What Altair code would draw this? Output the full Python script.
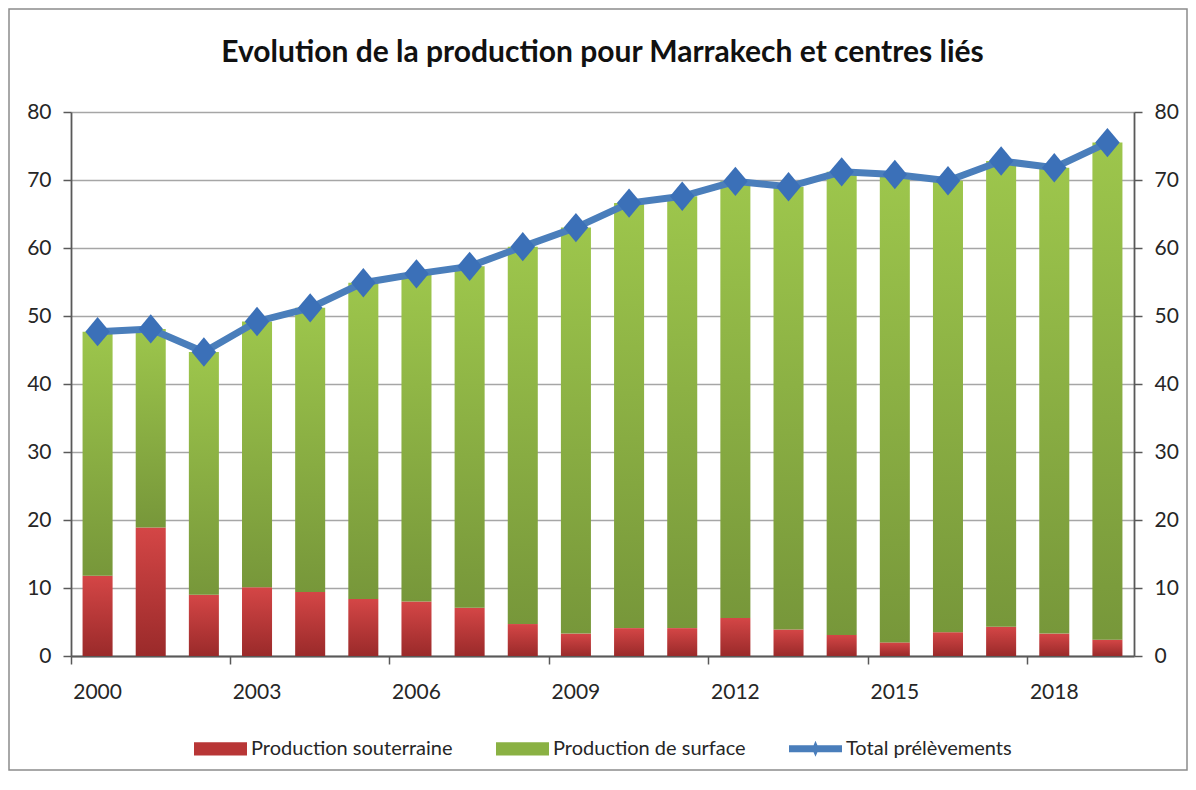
import altair as alt
import pandas as pd

# ---------------- data ----------------
years = list(range(2000, 2020))
souterraine = [11.8, 18.9, 9.0, 10.1, 9.4, 8.4, 8.0, 7.1, 4.7, 3.3,
               4.1, 4.1, 5.6, 3.9, 3.1, 2.0, 3.5, 4.3, 3.3, 2.4]
surface = [35.9, 29.2, 35.7, 39.1, 41.8, 46.5, 48.2, 50.2, 55.5, 59.7,
           62.5, 63.5, 64.2, 65.1, 68.1, 68.8, 66.4, 68.5, 68.5, 73.1]
total = [47.7, 48.1, 44.7, 49.2, 51.2, 54.9, 56.2, 57.3, 60.2, 63.0,
         66.6, 67.6, 69.8, 69.0, 71.2, 70.8, 69.9, 72.8, 71.8, 75.5]
series_names = ["Production souterraine", "Production de surface", "Total prélèvements"]
x_label_years = [2000, 2003, 2006, 2009, 2012, 2015, 2018]
y_ticks = [0, 10, 20, 30, 40, 50, 60, 70, 80]
title_text = "Evolution de la production pour Marrakech et centres liés"

df = pd.DataFrame({"year": years, "sout": souterraine, "surf": surface, "total": total})
legend_df = pd.DataFrame({"serie": series_names})

# ---------------- styling ----------------
W, H = 1063, 544
FONT = "Lato"
TXT = "#262626"
AXC = "#595959"

grad_red = {"gradient": "linear", "x1": 0, "x2": 0, "y1": 0, "y2": 1,
            "stops": [{"offset": 0, "color": "#d44646"}, {"offset": 1, "color": "#9a2a2a"}]}
grad_green = {"gradient": "linear", "x1": 0, "x2": 0, "y1": 0, "y2": 1,
              "stops": [{"offset": 0, "color": "#9dc64c"}, {"offset": 1, "color": "#77973a"}]}

diamond_path = "M0,-1.2L1,0L0,1.2L-1,0Z"
rect_path = "M-1,-0.25H1V0.25H-1Z"
line_sym_path = "M-1,-0.13H1V0.13H-1Z M0,-0.3L0.13,0L0,0.3L-0.13,0Z"

x_axis = alt.Axis(values=x_label_years, bandPosition=0, title=None, labelAngle=0,
                  labelFont=FONT, labelFontSize=21, labelColor=TXT, labelPadding=17,
                  tickSize=8, tickColor=AXC, tickWidth=1.5, domainColor=AXC, domainWidth=1.8,
                  grid=False)
x_enc = alt.X("year:O", scale=alt.Scale(paddingInner=0, paddingOuter=0), axis=x_axis)

y_scale = alt.Scale(domain=[0, 80], nice=False, zero=True)
left_axis = alt.Axis(values=y_ticks, title=None, grid=True, gridColor="#a6a6a6", gridWidth=1.5,
                     labelFont=FONT, labelFontSize=21, labelColor=TXT, labelPadding=12,
                     tickSize=8, tickColor=AXC, tickWidth=1.5, domainColor=AXC, domainWidth=1.8)
right_axis = alt.Axis(values=y_ticks, title=None, grid=False, orient="right",
                      labelFont=FONT, labelFontSize=21, labelColor=TXT, labelPadding=12,
                      tickSize=8, tickColor=AXC, tickWidth=1.5, domainColor=AXC, domainWidth=1.8)

bar_w = alt.RelativeBandSize(0.565)

frame = alt.Chart(pd.DataFrame({"a": [0]})).mark_rect(
    fillOpacity=0, stroke="#8c8c8c", strokeWidth=1.5
).encode(x=alt.value(-62), x2=alt.value(1116), y=alt.value(-103), y2=alt.value(658))

red = alt.Chart(df).mark_bar(color=grad_red, width=bar_w).encode(
    x=x_enc, y=alt.Y("sout:Q", scale=y_scale, axis=left_axis))

green = alt.Chart(df).transform_calculate(top="datum.sout + datum.surf").mark_bar(
    color=grad_green, width=bar_w
).encode(x=x_enc, y=alt.Y("sout:Q", scale=y_scale, axis=None), y2="top:Q")

line = alt.Chart(df).mark_line(color="#4a7ebb", strokeWidth=7).encode(
    x=x_enc, y=alt.Y("total:Q", scale=y_scale, axis=None))

pts = alt.Chart(df).mark_point(filled=True, shape=diamond_path, size=600,
                               color="#3b70b8", opacity=1).encode(
    x=x_enc, y=alt.Y("total:Q", scale=y_scale, axis=right_axis))

leg = alt.Legend(title=None, orient="none", legendX=123, legendY=610, direction="horizontal",
                 symbolSize=2809, symbolOpacity=1, symbolStrokeWidth=0,
                 labelFont=FONT, labelFontSize=20, labelColor=TXT, labelOffset=4,
                 labelLimit=400, columnPadding=43, padding=0)
legend_layer = alt.Chart(legend_df).mark_point(filled=True, opacity=0).encode(
    color=alt.Color("serie:N", scale=alt.Scale(domain=series_names,
                                               range=["#b83636", "#8ab143", "#4a7ebb"]), legend=leg),
    shape=alt.Shape("serie:N", scale=alt.Scale(domain=series_names,
                                               range=[rect_path, rect_path, line_sym_path]), legend=leg),
)

title = alt.Chart(pd.DataFrame({"t": [title_text]})).mark_text(
    font=FONT, fontWeight="bold", fontSize=30, color="#111111", align="center", baseline="middle"
).encode(text="t:N", x=alt.value(W / 2), y=alt.value(-59))

chart = alt.layer(frame, red, green, line, pts, legend_layer, title).resolve_scale(
    y="independent"
).properties(width=W, height=H, padding=0, background="white").configure_view(stroke=None)

chart.save("out.html", embed_options={"renderer": "svg", "actions": False})
